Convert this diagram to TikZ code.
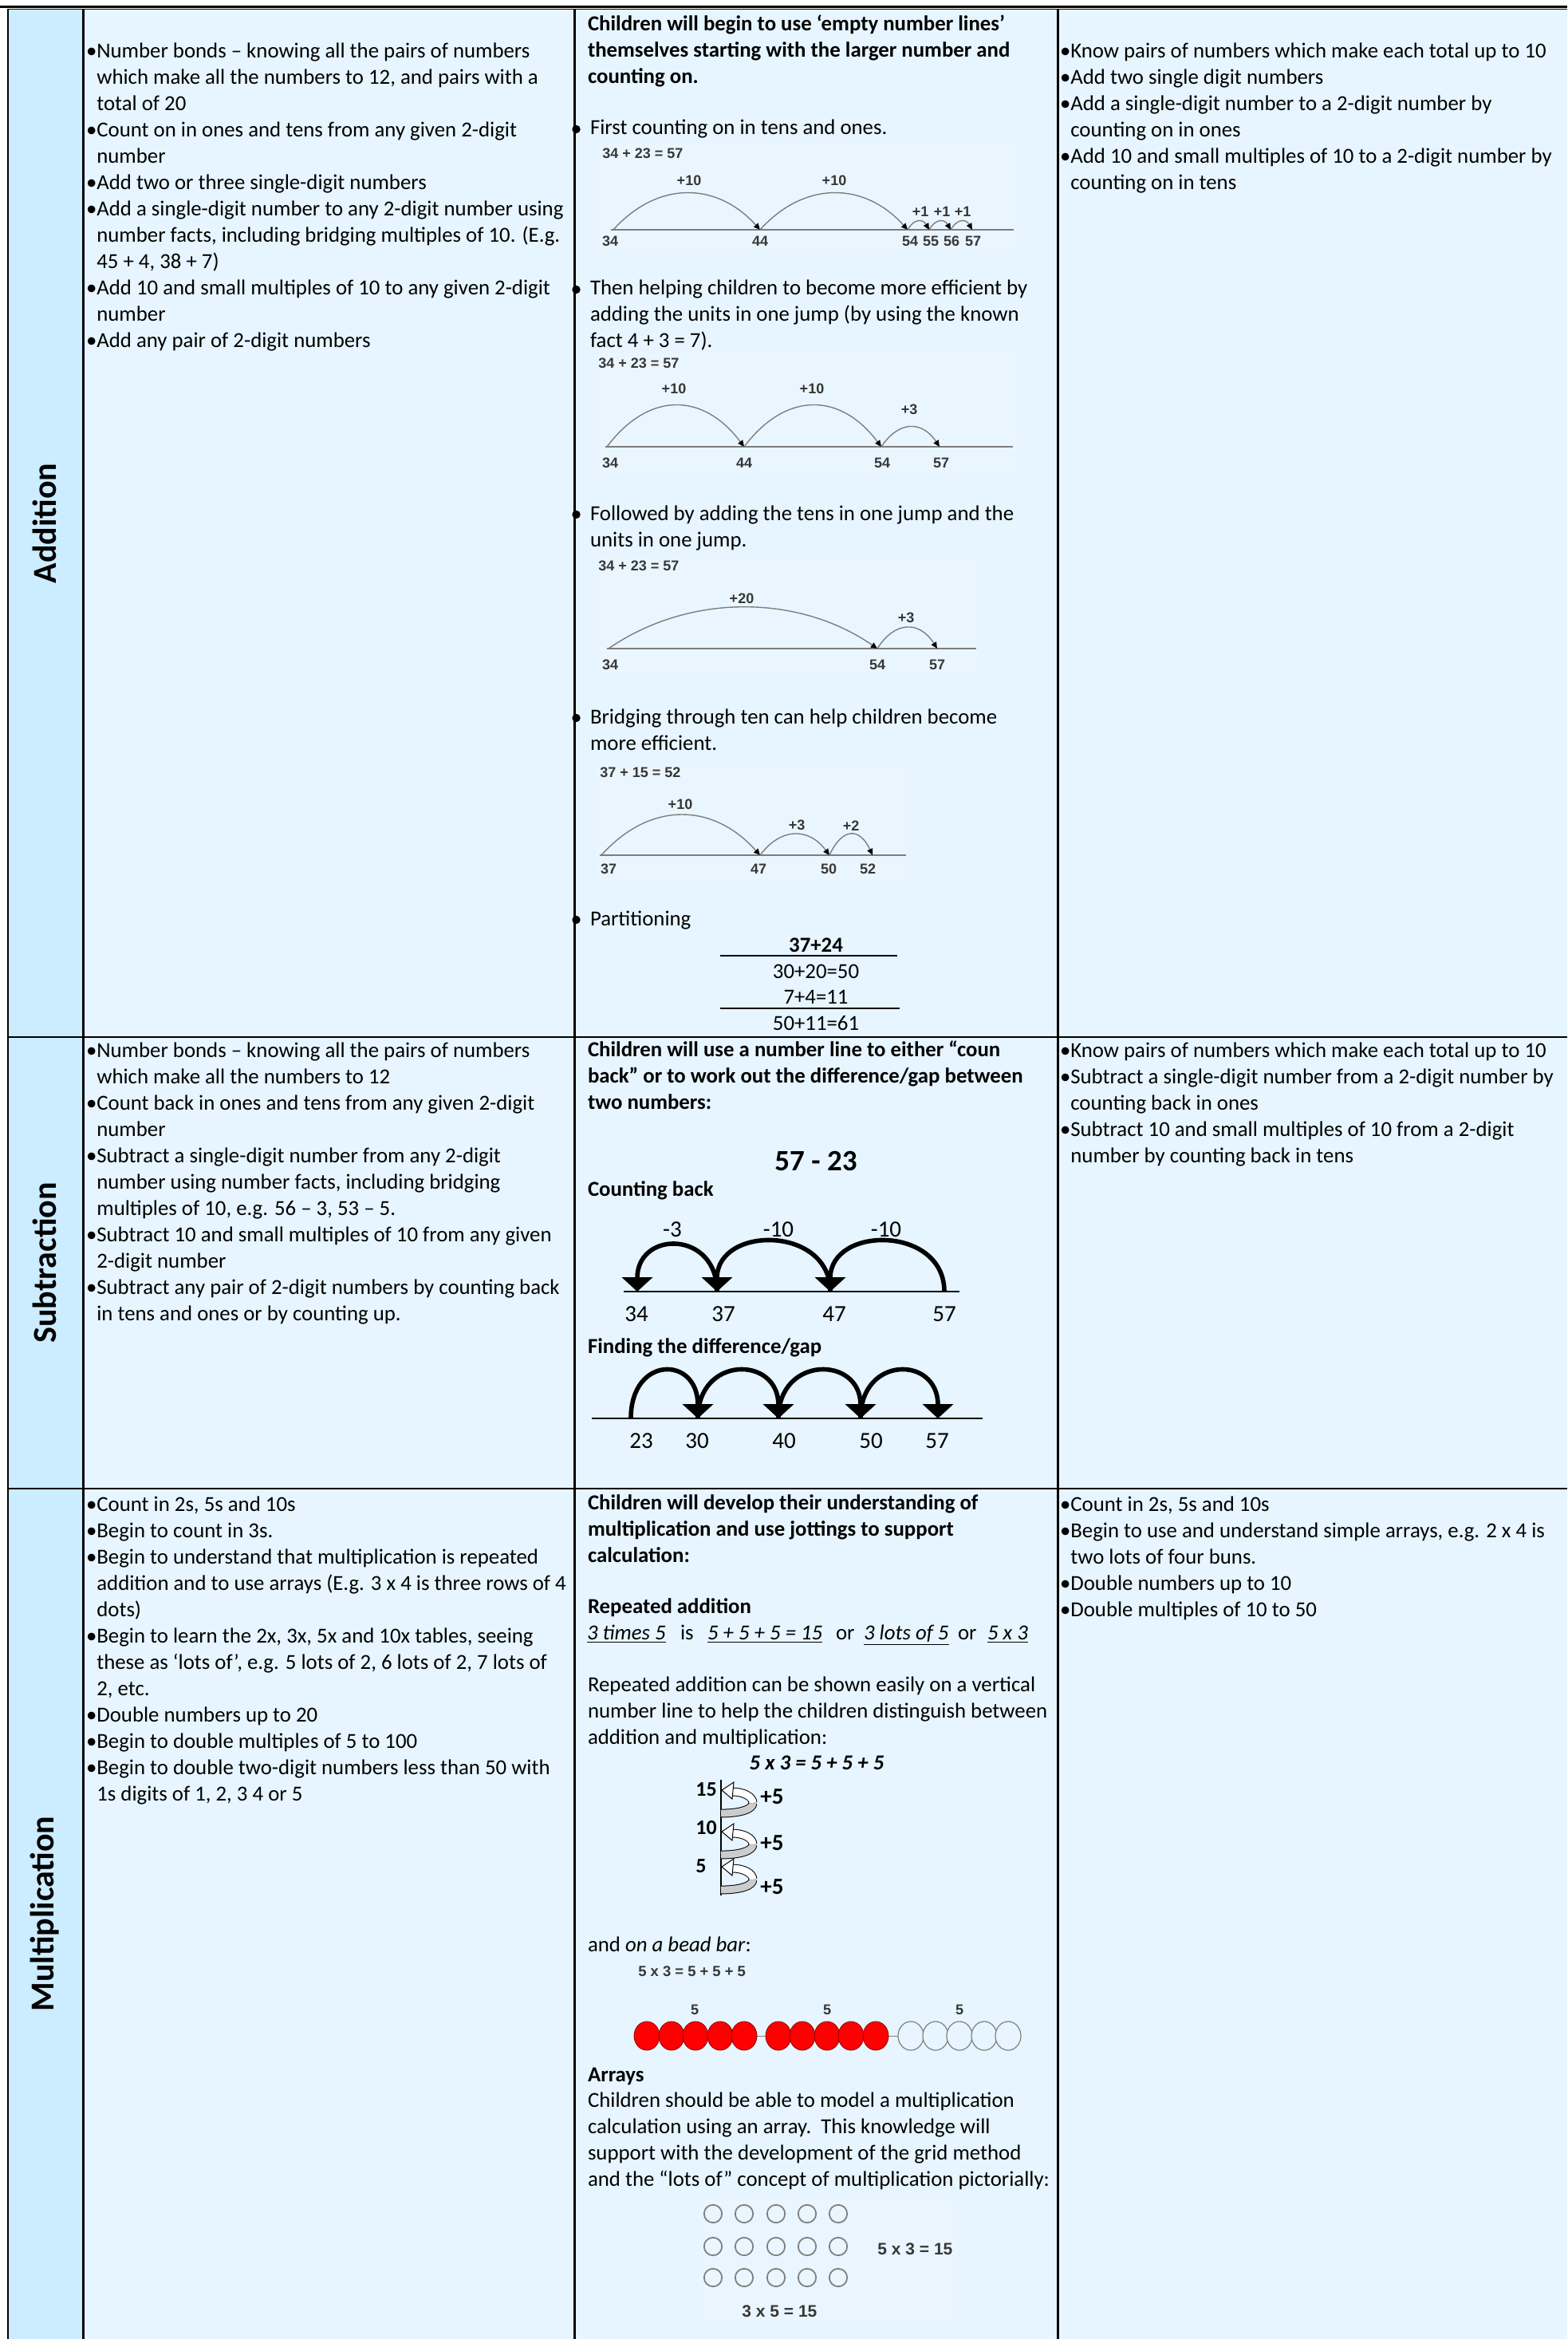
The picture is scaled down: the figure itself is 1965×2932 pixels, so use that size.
\documentclass[tikz,border=0pt]{standalone}
\usepackage{fontspec}
\setmainfont{Carlito}
\newfontfamily\arialf{Liberation Sans}
\usetikzlibrary{arrows.meta}
\definecolor{lblue}{RGB}{204,236,255}
\definecolor{cblue}{RGB}{230,245,255}
\definecolor{imgbg}{RGB}{234,246,255}
\definecolor{figline}{RGB}{125,125,125}
\definecolor{figtext}{RGB}{55,55,55}
\newcommand\hgi{\phantom{•}}
\newcommand\blk[1]{\parbox[t]{330pt}{\raggedright #1}}
\begin{document}
\begin{tikzpicture}[x=0.5pt,y=-0.5pt,
  txt/.style={anchor=base west, inner sep=0pt, outer sep=0pt, font=\fontsize{13.4pt}{16.5pt}\selectfont},
  btxt/.style={txt, font=\fontsize{13.4pt}{16.5pt}\selectfont\bfseries},
  ctxt/.style={inner sep=0pt, outer sep=0pt, font=\fontsize{13.4pt}{16.5pt}\selectfont},
  rowlab/.style={rotate=90, inner sep=0pt, font=\fontsize{21pt}{24pt}\selectfont\bfseries},
  figeq/.style={anchor=west, inner sep=0pt, font=\arialf\bfseries\fontsize{9pt}{10pt}\selectfont, text=figtext},
  figlab/.style={inner sep=0pt, font=\arialf\bfseries\fontsize{9pt}{10pt}\selectfont, text=figtext},
  numline/.style={draw=figline, line width=0.8pt},
  jump/.style={draw=figline, line width=0.7pt, -{Triangle[length=4pt,width=3.6pt,color=black]}},
  bigjump/.style={draw=black, line width=2.8pt, -{Triangle[length=9pt,width=19pt]}},
  sublab/.style={inner sep=0pt, font=\fontsize{14.5pt}{16pt}\selectfont},
  tabline/.style={line width=1.1pt},
  vlab/.style={inner sep=0pt, font=\fontsize{13pt}{15pt}\selectfont\bfseries},
  arrlab/.style={anchor=west, inner sep=0pt, font=\arialf\bfseries\fontsize{10.5pt}{12pt}\selectfont, text=figtext},
  ]
\useasboundingbox (0,0) rectangle (1965,2932);
\fill[white] (0,0) rectangle (1965,2932);
% ---------- table background ----------
\fill[lblue] (10,12) rectangle (105,2932);
\fill[cblue] (105,12) rectangle (1965,2932);
\fill[black] (0,7) rectangle (1965,10);
\draw[line width=0.6pt] (10,11.6) -- (1965,11.6);
% column-3 bullets (half hidden by border)
\foreach \yy in {162,363,645,900,1153} \fill (722.5,\yy) circle[radius=2.6pt];
% grid
\draw[tabline] (10,11) -- (10,2932);
\draw[tabline] (104.5,11) -- (104.5,2932);
\draw[tabline] (720.5,11) -- (720.5,2932);
\draw[tabline] (1326.5,11) -- (1326.5,2932);
\draw[tabline] (10,1300) -- (1965,1300);
\draw[tabline] (10,1866) -- (1965,1866);
% ---------- row labels ----------
\node[rowlab] (labadd) at (56,656) {Addition};
\node[rowlab] (labsub) at (56,1583) {Subtraction};
\node[rowlab] (labmul) at (56,2399) {Multiplication};
% ================= ADDITION =================
\node[txt] (addL) at (108,73) {\blk{%
•Number bonds – knowing all the pairs of numbers\\
\hgi which make all the numbers to 12, and pairs with a\\
\hgi total of 20\\
•Count on in ones and tens from any given 2-digit\\
\hgi number\\
•Add two or three single-digit numbers\\
•Add a single-digit number to any 2-digit number using\\
\hgi number facts, including bridging multiples of 10. (E.g.\\
\hgi 45 + 4, 38 + 7)\\
•Add 10 and small multiples of 10 to any given 2-digit\\
\hgi number\\
•Add any pair of 2-digit numbers}};
\node[txt] (addR) at (1329,73) {\blk{%
•Know pairs of numbers which make each total up to 10\\
•Add two single digit numbers\\
•Add a single-digit number to a 2-digit number by\\
\hgi counting on in ones\\
•Add 10 and small multiples of 10 to a 2-digit number by\\
\hgi counting on in tens}};
\node[btxt] (addM0) at (737,39) {\blk{%
Children will begin to use ‘empty number lines’\\
themselves starting with the larger number and\\
counting on.}};
\node[txt] (addM1) at (740,169) {First counting on in tens and ones.};
\node[txt] (addM2) at (740,370) {\blk{%
Then helping children to become more efficient by\\
adding the units in one jump (by using the known\\
fact 4 + 3 = 7).}};
\node[txt] (addM3) at (740,652) {\blk{%
Followed by adding the tens in one jump and the\\
units in one jump.}};
\node[txt] (addM4) at (740,907) {\blk{%
Bridging through ten can help children become\\
more efficient.}};
\node[txt] (addM5) at (740,1160) {Partitioning};
% ---- fig 1 ----
\fill[imgbg] (748,178) rectangle (1274,318);
\node[figeq] (f1eq) at (755,192) {34 + 23 = 57};
\coordinate (f1s) at (766,288); \coordinate (f1e) at (1271,288);
\coordinate (f1a) at (769,288); \coordinate (f1b) at (953,288);
\coordinate (f1c) at (1138,288); \coordinate (f1d) at (1165,288);
\coordinate (f1f) at (1192,288); \coordinate (f1g) at (1219,288);
\draw[numline] (f1s) -- (f1e);
\draw[jump] (f1a) .. controls +(55,-61) and +(-55,-61) .. (f1b);
\draw[jump] (f1b) .. controls +(55,-61) and +(-55,-61) .. (f1c);
\draw[jump] (f1c) .. controls +(8,-14) and +(-8,-14) .. (f1d);
\draw[jump] (f1d) .. controls +(8,-14) and +(-8,-14) .. (f1f);
\draw[jump] (f1f) .. controls +(8,-14) and +(-8,-14) .. (f1g);
\node[figlab] (f1p1) at (864,226) {+10};
\node[figlab] (f1p2) at (1046,226) {+10};
\node[figlab] (f1p3) at (1154,265) {+1};
\node[figlab] (f1p4) at (1181,265) {+1};
\node[figlab] (f1p5) at (1207,265) {+1};
\node[figlab] (f1n1) at (765,302) {34};
\node[figlab] (f1n2) at (953,302) {44};
\node[figlab] (f1n3) at (1141,302) {54};
\node[figlab] (f1n4) at (1167,302) {55};
\node[figlab] (f1n5) at (1193,302) {56};
\node[figlab] (f1n6) at (1220,302) {57};
% ---- fig 2 ----
\fill[imgbg] (746,442) rectangle (1274,594);
\node[figeq] (f2eq) at (750,455) {34 + 23 = 57};
\coordinate (f2s) at (759,560); \coordinate (f2e) at (1270,560);
\coordinate (f2a) at (761,560); \coordinate (f2b) at (933,560);
\coordinate (f2c) at (1105,560); \coordinate (f2d) at (1178,560);
\draw[numline] (f2s) -- (f2e);
\draw[jump] (f2a) .. controls +(52,-69) and +(-52,-69) .. (f2b);
\draw[jump] (f2b) .. controls +(52,-69) and +(-52,-69) .. (f2c);
\draw[jump] (f2c) .. controls +(22,-33) and +(-22,-33) .. (f2d);
\node[figlab] (f2p1) at (845,487) {+10};
\node[figlab] (f2p2) at (1018,487) {+10};
\node[figlab] (f2p3) at (1140,513) {+3};
\node[figlab] (f2n1) at (765,580) {34};
\node[figlab] (f2n2) at (933,580) {44};
\node[figlab] (f2n3) at (1106,580) {54};
\node[figlab] (f2n4) at (1180,580) {57};
% ---- fig 3 ----
\fill[imgbg] (746,696) rectangle (1228,848);
\node[figeq] (f3eq) at (750,709) {34 + 23 = 57};
\coordinate (f3s) at (761,813); \coordinate (f3e) at (1224,813);
\coordinate (f3a) at (763,813); \coordinate (f3b) at (1100,813);
\coordinate (f3c) at (1175,813);
\draw[numline] (f3s) -- (f3e);
\draw[jump] (f3a) .. controls +(100,-69) and +(-100,-69) .. (f3b);
\draw[jump] (f3b) .. controls +(22,-35) and +(-22,-35) .. (f3c);
\node[figlab] (f3p1) at (930,750) {+20};
\node[figlab] (f3p2) at (1136,774) {+3};
\node[figlab] (f3n1) at (765,833) {34};
\node[figlab] (f3n2) at (1100,833) {54};
\node[figlab] (f3n3) at (1175,833) {57};
% ---- fig 4 ----
\fill[imgbg] (746,955) rectangle (1140,1102);
\node[figeq] (f4eq) at (752,968) {37 + 15 = 52};
\coordinate (f4s) at (752,1072); \coordinate (f4e) at (1136,1072);
\coordinate (f4a) at (754,1072); \coordinate (f4b) at (953,1072);
\coordinate (f4c) at (1040,1072); \coordinate (f4d) at (1094,1072);
\draw[numline] (f4s) -- (f4e);
\draw[jump] (f4a) .. controls +(60,-67) and +(-60,-67) .. (f4b);
\draw[jump] (f4b) .. controls +(26,-35) and +(-26,-35) .. (f4c);
\draw[jump] (f4c) .. controls +(16,-35) and +(-16,-35) .. (f4d);
\node[figlab] (f4p1) at (853,1008) {+10};
\node[figlab] (f4p2) at (999,1034) {+3};
\node[figlab] (f4p3) at (1067,1035) {+2};
\node[figlab] (f4n1) at (763,1089) {37};
\node[figlab] (f4n2) at (951,1089) {47};
\node[figlab] (f4n3) at (1039,1089) {50};
\node[figlab] (f4n4) at (1088,1089) {52};
% ---- partitioning ----
\node[ctxt, font=\fontsize{13.4pt}{16.5pt}\selectfont\bfseries] (pt1) at (1023,1185) {37+24};
\node[ctxt] (pt2) at (1023,1218) {30+20=50};
\node[ctxt] (pt3) at (1023,1250) {7+4=11};
\node[ctxt] (pt4) at (1023,1283) {50+11=61};
\coordinate (pl1a) at (903,1198); \coordinate (pl1b) at (1125,1198);
\coordinate (pl2a) at (903,1264); \coordinate (pl2b) at (1128,1264);
\draw[line width=0.7pt] (pl1a) -- (pl1b);
\draw[line width=0.7pt] (pl2a) -- (pl2b);
% ================= SUBTRACTION =================
\node[txt] (subL) at (108,1325) {\blk{%
•Number bonds – knowing all the pairs of numbers\\
\hgi which make all the numbers to 12\\
•Count back in ones and tens from any given 2-digit\\
\hgi number\\
•Subtract a single-digit number from any 2-digit\\
\hgi number using number facts, including bridging\\
\hgi multiples of 10, e.g. 56 – 3, 53 – 5.\\
•Subtract 10 and small multiples of 10 from any given\\
\hgi 2-digit number\\
•Subtract any pair of 2-digit numbers by counting back\\
\hgi in tens and ones or by counting up.}};
\node[txt] (subR) at (1329,1325) {\blk{%
•Know pairs of numbers which make each total up to 10\\
•Subtract a single-digit number from a 2-digit number by\\
\hgi counting back in ones\\
•Subtract 10 and small multiples of 10 from a 2-digit\\
\hgi number by counting back in tens}};
\node[btxt] (subM0) at (737,1324) {\blk{%
Children will use a number line to either “coun\\
back” or to work out the difference/gap between\\
two numbers:}};
\node[inner sep=0pt, font=\fontsize{18.5pt}{20pt}\selectfont\bfseries] (subeq) at (1023,1455) {57 - 23};
\node[btxt] (subcb) at (737,1499) {Counting back};
\node[btxt] (subfd) at (737,1696) {Finding the difference/gap};
% counting back
\coordinate (sAs) at (782,1619); \coordinate (sAe) at (1203,1619);
\coordinate (s34) at (799,1619); \coordinate (s37) at (899,1619);
\coordinate (s47) at (1041,1619); \coordinate (s57) at (1184,1619);
\draw[line width=0.6pt] (sAs) -- (sAe);
\draw[bigjump] (s57) .. controls +(0,-83) and +(0,-83) .. (s47);
\draw[bigjump] (s47) .. controls +(0,-83) and +(0,-83) .. (s37);
\draw[bigjump] (s37) .. controls +(0,-77) and +(0,-77) .. (s34);
\node[sublab] (sl1) at (843,1541) {-3};
\node[sublab] (sl2) at (976,1541) {-10};
\node[sublab] (sl3) at (1111,1541) {-10};
\node[sublab] (sn1) at (798,1647) {34};
\node[sublab] (sn2) at (907,1647) {37};
\node[sublab] (sn3) at (1046,1647) {47};
\node[sublab] (sn4) at (1184,1647) {57};
% difference
\coordinate (dBs) at (742,1778); \coordinate (dBe) at (1232,1778);
\coordinate (d23) at (791,1778); \coordinate (d30) at (875,1778);
\coordinate (d40) at (976,1778); \coordinate (d50) at (1079,1778);
\coordinate (d57) at (1176,1778);
\draw[line width=0.6pt] (dBs) -- (dBe);
\draw[bigjump] (d23) .. controls +(0,-79) and +(0,-79) .. (d30);
\draw[bigjump] (d30) .. controls +(0,-79) and +(0,-79) .. (d40);
\draw[bigjump] (d40) .. controls +(0,-79) and +(0,-79) .. (d50);
\draw[bigjump] (d50) .. controls +(0,-79) and +(0,-79) .. (d57);
\node[sublab] (dn1) at (804,1806) {23};
\node[sublab] (dn2) at (874,1806) {30};
\node[sublab] (dn3) at (983,1806) {40};
\node[sublab] (dn4) at (1092,1806) {50};
\node[sublab] (dn5) at (1175,1806) {57};
% ================= MULTIPLICATION =================
\node[txt] (mulL) at (108,1894) {\blk{%
•Count in 2s, 5s and 10s\\
•Begin to count in 3s.\\
•Begin to understand that multiplication is repeated\\
\hgi addition and to use arrays (E.g. 3 x 4 is three rows of 4\\
\hgi dots)\\
•Begin to learn the 2x, 3x, 5x and 10x tables, seeing\\
\hgi these as ‘lots of’, e.g. 5 lots of 2, 6 lots of 2, 7 lots of\\
\hgi 2, etc.\\
•Double numbers up to 20\\
•Begin to double multiples of 5 to 100\\
•Begin to double two-digit numbers less than 50 with\\
\hgi 1s digits of 1, 2, 3 4 or 5}};
\node[txt] (mulR) at (1329,1894) {\blk{%
•Count in 2s, 5s and 10s\\
•Begin to use and understand simple arrays, e.g. 2 x 4 is\\
\hgi two lots of four buns.\\
•Double numbers up to 10\\
•Double multiples of 10 to 50}};
\node[btxt] (mulM0) at (737,1892) {\blk{%
Children will develop their understanding of\\
multiplication and use jottings to support\\
calculation:}};
\node[btxt] (mulra) at (737,2022) {Repeated addition};
\node[txt] (mu1) at (736,2055) {\underline{\textit{3 times 5}}};
\node[txt] (mu2) at (853,2055) {is};
\node[txt] (mu3) at (887,2055) {\underline{\textit{5 + 5 + 5 = 15}}};
\node[txt] (mu4) at (1048,2055) {or};
\node[txt] (mu5) at (1083,2055) {\underline{\textit{3 lots of 5}}};
\node[txt] (mu6) at (1201,2055) {or};
\node[txt] (mu7) at (1238,2055) {\underline{\textit{5 x 3}}};
\node[txt] (mulpar) at (737,2120) {\blk{%
Repeated addition can be shown easily on a vertical\\
number line to help the children distinguish between\\
addition and multiplication:}};
\node[ctxt, font=\fontsize{13.4pt}{16.5pt}\selectfont\bfseries\itshape] (muleq) at (1024,2210) {5 x 3 = 5 + 5 + 5};
% vertical number line
\coordinate (vt) at (904,2231); \coordinate (vb) at (904,2376);
\draw[line width=0.7pt] (vt) -- (vb);
\foreach \b in {2278,2330,2374} {
  \draw[line width=0.5pt, double=gray!40, double distance=4.4pt] (904,\b-5) .. controls (928,\b-5) and (944,\b-10) .. (944,\b-18);
  \draw[line width=0.5pt, double=white, double distance=4.4pt] (944,\b-18) .. controls (944,\b-26) and (932,\b-32) .. (918,\b-32);
  \filldraw[fill=white, draw=black, line width=0.5pt] (905,\b-34) -- (920,\b-44) -- (918,\b-23) -- cycle;
}
\node[vlab, anchor=west] (v15) at (872,2243) {15};
\node[vlab, anchor=west] (v10) at (872,2291) {10};
\node[vlab, anchor=west] (v5) at (872,2339) {5};
\node[vlab, anchor=west, font=\fontsize{14.5pt}{16pt}\selectfont\bfseries] (vp1) at (953,2252) {+5};
\node[vlab, anchor=west, font=\fontsize{14.5pt}{16pt}\selectfont\bfseries] (vp2) at (953,2310) {+5};
\node[vlab, anchor=west, font=\fontsize{14.5pt}{16pt}\selectfont\bfseries] (vp3) at (953,2365) {+5};
% bead bar
\node[txt] (mulbb) at (737,2446) {and \textit{on a bead bar}:};
\node[figeq, font=\arialf\bfseries\fontsize{9.2pt}{10pt}\selectfont] (bbeq) at (800,2471) {5 x 3 = 5 + 5 + 5};
\coordinate (wire1) at (800,2552); \coordinate (wire2) at (1275,2552);
\draw[gray, line width=0.5pt] (wire1) -- (wire2);
\foreach \x in {811,842,872,903,933,976,1006,1037,1067,1098}
  \filldraw[fill=red, draw=red!55!black, line width=0.4pt] (\x,2552) ellipse [x radius=8pt, y radius=9pt];
\foreach \x in {1142,1173,1203,1234,1264}
  \filldraw[fill=cblue, draw=gray, line width=0.6pt] (\x,2552) ellipse [x radius=8pt, y radius=9pt];
\node[figlab] (bb5a) at (871,2519) {5};
\node[figlab] (bb5b) at (1037,2519) {5};
\node[figlab] (bb5c) at (1203,2519) {5};
% arrays
\node[btxt] (mularr) at (737,2609) {Arrays};
\node[txt] (mularrp) at (737,2641) {\blk{%
Children should be able to model a multiplication\\
calculation using an array.\ \ This knowledge will\\
support with the development of the grid method\\
and the “lots of” concept of multiplication pictorially:}};
\fill[imgbg] (876,2753) rectangle (1201,2912);
\foreach \r in {2775,2816,2855}
  \foreach \c in {894,933,973,1012,1051}
    \draw[gray, line width=0.9pt] (\c,\r) circle[radius=5.6pt];
\node[arrlab] (arr1) at (1100,2819) {5 x 3 = 15};
\node[arrlab] (arr2) at (930,2897) {3 x 5 = 15};
\end{tikzpicture}
\end{document}
